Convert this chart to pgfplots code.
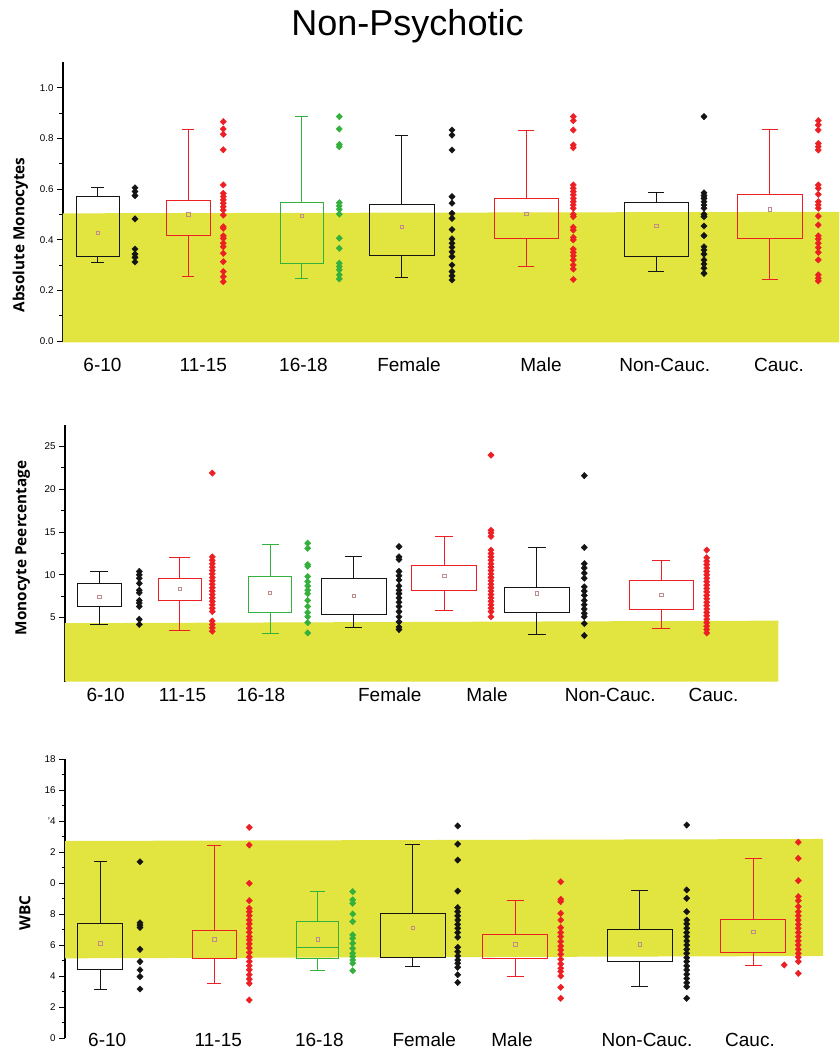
\documentclass[border=0pt]{standalone}
\usepackage{fontspec}
\setmainfont{Liberation Sans}
\newfontfamily\labfont{Open Sans}
\usepackage{pgfplots}
\pgfplotsset{compat=1.18}
\usepgfplotslibrary{statistics}
\definecolor{ylw}{RGB}{226,228,64}
\definecolor{rd}{RGB}{236,32,36}
\definecolor{gr}{RGB}{52,176,60}
\definecolor{bk}{RGB}{20,20,20}
\definecolor{mn}{RGB}{190,140,140}
\pgfplotsset{
 panel/.style={scale only axis, axis y line*=left, axis x line*=bottom,
   x axis line style={draw=none}, y axis line style={-, line width=1.2pt, black},
   xtick style={draw=none}, ytick style={line width=0.9pt, black},
   tick align=outside, major tick length=6pt, minor tick length=3.5pt,
   yticklabel style={font=\fontsize{9.8}{10}\selectfont},
   /pgf/number format/assume math mode=true,
   xticklabel style={font=\fontsize{19}{20}\selectfont, anchor=base},
   ylabel style={font=\labfont\bfseries\fontsize{15.3}{17}\selectfont, anchor=center},
   clip=false,
 },
 bx/.style={line width=0.9pt, solid, boxplot/draw direction=y},
 pts/.style={only marks, mark=diamond*, mark size=3.2pt, mark options={xscale=1.3}},
 mean/.style={only marks, mark=square, mark size=1.7pt, mn, line width=0.5pt},
}
\begin{document}
\begin{tikzpicture}
\path[use as bounding box] (0pt,0pt) rectangle (839pt,1050pt);
\node[font=\fontsize{36}{40}\selectfont, anchor=base] at (407.5pt,1014pt) {Non-Psychotic};

% ---------------- Panel 1 ----------------
\begin{axis}[panel, at={(63pt,707.5pt)}, anchor=south west,
  width=776pt, height=280.1pt, xmin=0.63, xmax=8.39, ymin=-0.006, ymax=1.1,
  ytick={0,0.2,0.4,0.6,0.8,1.0}, minor tick num=1,
  yticklabel style={/pgf/number format/.cd, fixed, fixed zerofill, precision=1},
  xtick={1.025,2.033,3.035,4.09,5.41,6.647,7.79},
  xticklabels={6-10,11-15,16-18,Female,Male,Non-Cauc.,Cauc.},
  xticklabel style={yshift=-23.5pt},
  ylabel={Absolute Monocytes},
  ylabel style={at={(axis description cs:-0.0548,0.384)}}]
\addplot[draw=none, fill=ylw] coordinates {(0.63,-0.006) (8.39,-0.006) (8.39,0.51) (0.63,0.504)};
\addplot[bx, bk, boxplot prepared={draw position=0.977, box extend=0.433, whisker extend=0.13, lower whisker=0.312, lower quartile=0.332, median=0.332, upper quartile=0.572, upper whisker=0.605}] coordinates {};
\addplot[bx, rd, boxplot prepared={draw position=1.883, box extend=0.433, whisker extend=0.12, lower whisker=0.254, lower quartile=0.415, median=0.415, upper quartile=0.554, upper whisker=0.834}] coordinates {};
\addplot[bx, gr, boxplot prepared={draw position=3.017, box extend=0.433, whisker extend=0.13, lower whisker=0.246, lower quartile=0.307, median=0.307, upper quartile=0.546, upper whisker=0.886}] coordinates {};
\addplot[bx, bk, boxplot prepared={draw position=4.017, box extend=0.647, whisker extend=0.13, lower whisker=0.249, lower quartile=0.339, median=0.339, upper quartile=0.539, upper whisker=0.811}] coordinates {};
\addplot[bx, rd, boxplot prepared={draw position=5.262, box extend=0.643, whisker extend=0.16, lower whisker=0.294, lower quartile=0.406, median=0.406, upper quartile=0.563, upper whisker=0.833}] coordinates {};
\addplot[bx, bk, boxplot prepared={draw position=6.563, box extend=0.647, whisker extend=0.16, lower whisker=0.275, lower quartile=0.332, median=0.332, upper quartile=0.546, upper whisker=0.585}] coordinates {};
\addplot[bx, rd, boxplot prepared={draw position=7.698, box extend=0.65, whisker extend=0.16, lower whisker=0.244, lower quartile=0.405, median=0.405, upper quartile=0.578, upper whisker=0.837}] coordinates {};
\addplot[mean] coordinates {(0.977,0.428) (1.883,0.501) (3.017,0.495) (4.017,0.451) (5.262,0.503) (6.563,0.455) (7.698,0.520)};
\addplot[pts, bk] coordinates {(1.35,0.605) (1.35,0.590) (1.35,0.574) (1.35,0.482) (1.35,0.363) (1.35,0.343) (1.35,0.330) (1.35,0.312)};
\addplot[pts, rd] coordinates {(2.233,0.866) (2.233,0.837) (2.233,0.816) (2.233,0.755) (2.233,0.616) (2.233,0.583) (2.233,0.570) (2.233,0.557) (2.233,0.544) (2.233,0.530) (2.233,0.517) (2.233,0.497) (2.233,0.451) (2.233,0.445) (2.233,0.415) (2.233,0.405) (2.233,0.386) (2.233,0.372) (2.233,0.346) (2.233,0.313) (2.233,0.274) (2.233,0.254) (2.233,0.234)};
\addplot[pts, gr] coordinates {(3.393,0.886) (3.393,0.837) (3.393,0.776) (3.393,0.767) (3.393,0.546) (3.393,0.533) (3.393,0.520) (3.393,0.501) (3.393,0.406) (3.393,0.366) (3.393,0.307) (3.393,0.294) (3.393,0.281) (3.393,0.261) (3.393,0.245)};
\addplot[pts, bk] coordinates {(4.52,0.833) (4.52,0.813) (4.52,0.754) (4.52,0.570) (4.52,0.544) (4.52,0.504) (4.52,0.484) (4.52,0.440) (4.52,0.403) (4.52,0.386) (4.52,0.370) (4.52,0.352) (4.52,0.333) (4.52,0.300) (4.52,0.274) (4.52,0.257) (4.52,0.241)};
\addplot[pts, rd] coordinates {(5.733,0.886) (5.733,0.870) (5.733,0.833) (5.733,0.774) (5.733,0.763) (5.733,0.616) (5.733,0.603) (5.733,0.590) (5.733,0.577) (5.733,0.563) (5.733,0.550) (5.733,0.537) (5.733,0.524) (5.733,0.500) (5.733,0.491) (5.733,0.449) (5.733,0.438) (5.733,0.409) (5.733,0.399) (5.733,0.363) (5.733,0.350) (5.733,0.336) (5.733,0.320) (5.733,0.300) (5.733,0.284) (5.733,0.243)};
\addplot[pts, bk] coordinates {(7.04,0.886) (7.04,0.585) (7.04,0.574) (7.04,0.563) (7.04,0.550) (7.04,0.537) (7.04,0.524) (7.04,0.500) (7.04,0.491) (7.04,0.454) (7.04,0.416) (7.04,0.372) (7.04,0.359) (7.04,0.343) (7.04,0.320) (7.04,0.304) (7.04,0.287) (7.04,0.267)};
\addplot[pts, rd] coordinates {(8.183,0.870) (8.183,0.853) (8.183,0.833) (8.183,0.780) (8.183,0.767) (8.183,0.754) (8.183,0.616) (8.183,0.603) (8.183,0.579) (8.183,0.550) (8.183,0.537) (8.183,0.524) (8.183,0.493) (8.183,0.458) (8.183,0.415) (8.183,0.403) (8.183,0.386) (8.183,0.369) (8.183,0.350) (8.183,0.320) (8.183,0.261) (8.183,0.248) (8.183,0.237)};
\end{axis}

% ---------------- Panel 2 ----------------
\begin{axis}[panel, at={(65pt,368.3pt)}, anchor=south west,
  width=774pt, height=256.5pt, xmin=0.65, xmax=8.39, ymin=-2.5, ymax=27.5,
  ytick={5,10,15,20,25}, minor tick num=1,
  xtick={1.057,1.825,2.61,3.898,4.87,6.103,7.135},
  xticklabels={6-10,11-15,16-18,Female,Male,Non-Cauc.,Cauc.},
  xticklabel style={yshift=-14.3pt},
  ylabel={Monocyte Peercentage},
  ylabel style={at={(axis description cs:-0.0547,0.521)}}]
\addplot[draw=none, fill=ylw] coordinates {(0.65,-2.5) (7.783,-2.5) (7.783,4.64) (0.65,4.34)};
\addplot[bx, bk, boxplot prepared={draw position=0.993, box extend=0.433, whisker extend=0.18, lower whisker=4.14, lower quartile=6.28, median=6.28, upper quartile=9.02, upper whisker=10.37}] coordinates {};
\addplot[bx, rd, boxplot prepared={draw position=1.797, box extend=0.427, whisker extend=0.21, lower whisker=3.44, lower quartile=7.03, median=7.03, upper quartile=9.56, upper whisker=12.0}] coordinates {};
\addplot[bx, gr, boxplot prepared={draw position=2.70, box extend=0.434, whisker extend=0.17, lower whisker=3.17, lower quartile=5.58, median=5.58, upper quartile=9.79, upper whisker=13.6}] coordinates {};
\addplot[bx, bk, boxplot prepared={draw position=3.538, box extend=0.643, whisker extend=0.17, lower whisker=3.83, lower quartile=5.39, median=5.39, upper quartile=9.60, upper whisker=12.13}] coordinates {};
\addplot[bx, rd, boxplot prepared={draw position=4.442, box extend=0.65, whisker extend=0.18, lower whisker=5.78, lower quartile=8.12, median=8.12, upper quartile=11.08, upper whisker=14.47}] coordinates {};
\addplot[bx, bk, boxplot prepared={draw position=5.367, box extend=0.647, whisker extend=0.18, lower whisker=2.97, lower quartile=5.62, median=5.62, upper quartile=8.58, upper whisker=13.18}] coordinates {};
\addplot[bx, rd, boxplot prepared={draw position=6.612, box extend=0.643, whisker extend=0.18, lower whisker=3.67, lower quartile=5.93, median=5.93, upper quartile=9.29, upper whisker=11.63}] coordinates {};
\addplot[mean] coordinates {(0.993,7.42) (1.797,8.35) (2.70,7.92) (3.538,7.57) (4.442,9.87) (5.367,7.85) (6.612,7.69)};
\addplot[pts, bk] coordinates {(1.393,10.4) (1.393,10.0) (1.393,9.6) (1.393,9.0) (1.393,8.2) (1.393,7.9) (1.393,7.0) (1.393,6.7) (1.393,6.3) (1.393,4.8) (1.393,4.2)};
\addplot[pts, rd] coordinates {(2.123,21.9) (2.123,12.1) (2.123,11.7) (2.123,11.3) (2.123,10.9) (2.123,10.5) (2.123,10.1) (2.123,9.7) (2.123,9.3) (2.123,8.9) (2.123,8.5) (2.123,8.1) (2.123,7.7) (2.123,7.3) (2.123,6.9) (2.123,6.5) (2.123,6.1) (2.123,5.7) (2.123,4.6) (2.123,4.2) (2.123,3.8) (2.123,3.4)};
\addplot[pts, gr] coordinates {(3.077,13.7) (3.077,13.1) (3.077,11.2) (3.077,11.0) (3.077,9.8) (3.077,9.2) (3.077,8.7) (3.077,8.2) (3.077,7.8) (3.077,7.0) (3.077,6.3) (3.077,5.6) (3.077,5.1) (3.077,4.4) (3.077,3.2)};
\addplot[pts, bk] coordinates {(3.99,13.3) (3.99,12.1) (3.99,11.8) (3.99,10.4) (3.99,9.9) (3.99,9.4) (3.99,8.7) (3.99,8.2) (3.99,7.8) (3.99,7.3) (3.99,6.8) (3.99,6.3) (3.99,5.7) (3.99,5.1) (3.99,4.5) (3.99,3.9) (3.99,3.6)};
\addplot[pts, rd] coordinates {(4.91,24.0) (4.91,15.2) (4.91,14.9) (4.91,14.5) (4.91,12.9) (4.91,12.5) (4.91,12.1) (4.91,11.7) (4.91,11.3) (4.91,10.9) (4.91,10.5) (4.91,10.1) (4.91,9.7) (4.91,9.3) (4.91,8.9) (4.91,8.5) (4.91,8.1) (4.91,7.7) (4.91,7.3) (4.91,6.9) (4.91,6.5) (4.91,6.1) (4.91,5.7) (4.91,5.1)};
\addplot[pts, bk] coordinates {(5.843,21.6) (5.843,13.2) (5.843,11.3) (5.843,10.8) (5.843,10.2) (5.843,9.6) (5.843,8.6) (5.843,8.1) (5.843,7.6) (5.843,7.0) (5.843,6.5) (5.843,6.0) (5.843,5.5) (5.843,5.1) (5.843,4.3) (5.843,2.9)};
\addplot[pts, rd] coordinates {(7.067,12.9) (7.067,12.0) (7.067,11.6) (7.067,11.2) (7.067,10.8) (7.067,10.4) (7.067,10.0) (7.067,9.6) (7.067,9.2) (7.067,8.8) (7.067,8.4) (7.067,8.0) (7.067,7.6) (7.067,7.2) (7.067,6.8) (7.067,6.4) (7.067,6.0) (7.067,5.6) (7.067,5.2) (7.067,4.8) (7.067,4.4) (7.067,4.0) (7.067,3.6) (7.067,3.2)};
\end{axis}

% ---------------- Panel 3 ----------------
\begin{axis}[panel, at={(65pt,11.7pt)}, anchor=south west,
  width=774pt, height=279pt, xmin=0.65, xmax=8.39, ymin=0, ymax=18,
  ytick={0,2,4,6,8,10,12,14,16,18}, minor tick num=1,
  yticklabels={0,2,4,6,8,0,2,'4,16,18},
  xtick={1.072,2.183,3.193,4.242,5.12,6.47,7.50},
  xticklabels={6-10,11-15,16-18,Female,Male,Non-Cauc.,Cauc.},
  xticklabel style={yshift=-1.7pt},
  ylabel={WBC},
  ylabel style={at={(axis description cs:-0.0517,0.449)}}]
\addplot[draw=none, fill=ylw] coordinates {(0.65,5.16) (8.23,5.31) (8.23,12.86) (0.65,12.73)};
\addplot[bx, bk, boxplot prepared={draw position=1.002, box extend=0.45, whisker extend=0.13, lower whisker=3.18, lower quartile=4.43, median=4.43, upper quartile=7.39, upper whisker=11.39}] coordinates {};
\addplot[bx, rd, boxplot prepared={draw position=2.143, box extend=0.433, whisker extend=0.14, lower whisker=3.55, lower quartile=5.16, median=5.16, upper quartile=6.99, upper whisker=12.47}] coordinates {};
\addplot[bx, gr, boxplot prepared={draw position=3.175, box extend=0.416, whisker extend=0.15, lower whisker=4.36, lower quartile=5.16, median=5.87, upper quartile=7.57, upper whisker=9.46}] coordinates {};
\addplot[bx, bk, boxplot prepared={draw position=4.125, box extend=0.65, whisker extend=0.15, lower whisker=4.66, lower quartile=5.2, median=5.2, upper quartile=8.06, upper whisker=12.53}] coordinates {};
\addplot[bx, rd, boxplot prepared={draw position=5.152, box extend=0.65, whisker extend=0.17, lower whisker=4.02, lower quartile=5.14, median=5.14, upper quartile=6.73, upper whisker=8.92}] coordinates {};
\addplot[bx, bk, boxplot prepared={draw position=6.397, box extend=0.647, whisker extend=0.17, lower whisker=3.33, lower quartile=4.99, median=4.99, upper quartile=7.03, upper whisker=9.52}] coordinates {};
\addplot[bx, rd, boxplot prepared={draw position=7.532, box extend=0.65, whisker extend=0.17, lower whisker=4.73, lower quartile=5.57, median=5.57, upper quartile=7.7, upper whisker=11.61}] coordinates {};
\addplot[mean] coordinates {(1.002,6.13) (2.143,6.39) (3.175,6.39) (4.125,7.14) (5.152,6.06) (6.397,6.08) (7.532,6.86)};
\addplot[pts, bk] coordinates {(1.40,11.39) (1.40,7.45) (1.40,7.3) (1.40,7.15) (1.40,5.74) (1.40,4.95) (1.40,4.41) (1.40,3.98) (1.40,3.18)};
\addplot[pts, rd] coordinates {(2.493,13.61) (2.493,12.47) (2.493,10.0) (2.493,8.88) (2.493,8.39) (2.493,8.17) (2.493,7.92) (2.493,7.63) (2.493,7.38) (2.493,7.1) (2.493,6.84) (2.493,6.56) (2.493,6.35) (2.493,6.09) (2.493,5.82) (2.493,5.54) (2.493,5.24) (2.493,4.96) (2.493,4.68) (2.493,4.42) (2.493,4.1) (2.493,3.82) (2.493,3.55) (2.493,2.47)};
\addplot[pts, gr] coordinates {(3.527,9.46) (3.527,8.93) (3.527,8.71) (3.527,8.02) (3.527,7.53) (3.527,6.67) (3.527,6.45) (3.527,6.13) (3.527,5.8) (3.527,5.48) (3.527,5.27) (3.527,5.05) (3.527,4.84) (3.527,4.36)};
\addplot[pts, bk] coordinates {(4.577,13.7) (4.577,12.53) (4.577,11.5) (4.577,9.5) (4.577,8.43) (4.577,8.17) (4.577,7.9) (4.577,7.63) (4.577,7.35) (4.577,7.1) (4.577,6.82) (4.577,6.52) (4.577,5.87) (4.577,5.59) (4.577,5.31) (4.577,5.05) (4.577,4.84) (4.577,4.58) (4.577,4.1) (4.577,3.6)};
\addplot[pts, rd] coordinates {(5.607,10.1) (5.607,8.97) (5.607,8.82) (5.607,8.06) (5.607,7.63) (5.607,7.14) (5.607,6.82) (5.607,6.56) (5.607,6.24) (5.607,5.95) (5.607,5.7) (5.607,5.42) (5.607,5.1) (5.607,4.8) (5.607,4.52) (5.607,4.31) (5.607,4.02) (5.607,3.29) (5.607,2.58)};
\addplot[pts, bk] coordinates {(6.867,13.76) (6.867,9.57) (6.867,9.03) (6.867,8.17) (6.867,7.63) (6.867,7.38) (6.867,7.1) (6.867,6.82) (6.867,6.56) (6.867,6.28) (6.867,6.02) (6.867,5.74) (6.867,5.48) (6.867,5.2) (6.867,4.95) (6.867,4.67) (6.867,4.41) (6.867,4.13) (6.867,3.86) (6.867,3.58) (6.867,3.33) (6.867,2.58)};
\addplot[pts, rd] coordinates {(7.983,12.65) (7.983,11.61) (7.983,10.17) (7.983,9.14) (7.983,8.88) (7.983,8.5) (7.983,8.17) (7.983,7.9) (7.983,7.63) (7.983,7.35) (7.983,7.1) (7.983,6.82) (7.983,6.56) (7.983,6.28) (7.983,6.02) (7.983,5.74) (7.983,5.48) (7.983,5.24) (7.983,4.95) (7.983,4.19) (7.843,4.73)};
\end{axis}
\end{tikzpicture}
\end{document}
